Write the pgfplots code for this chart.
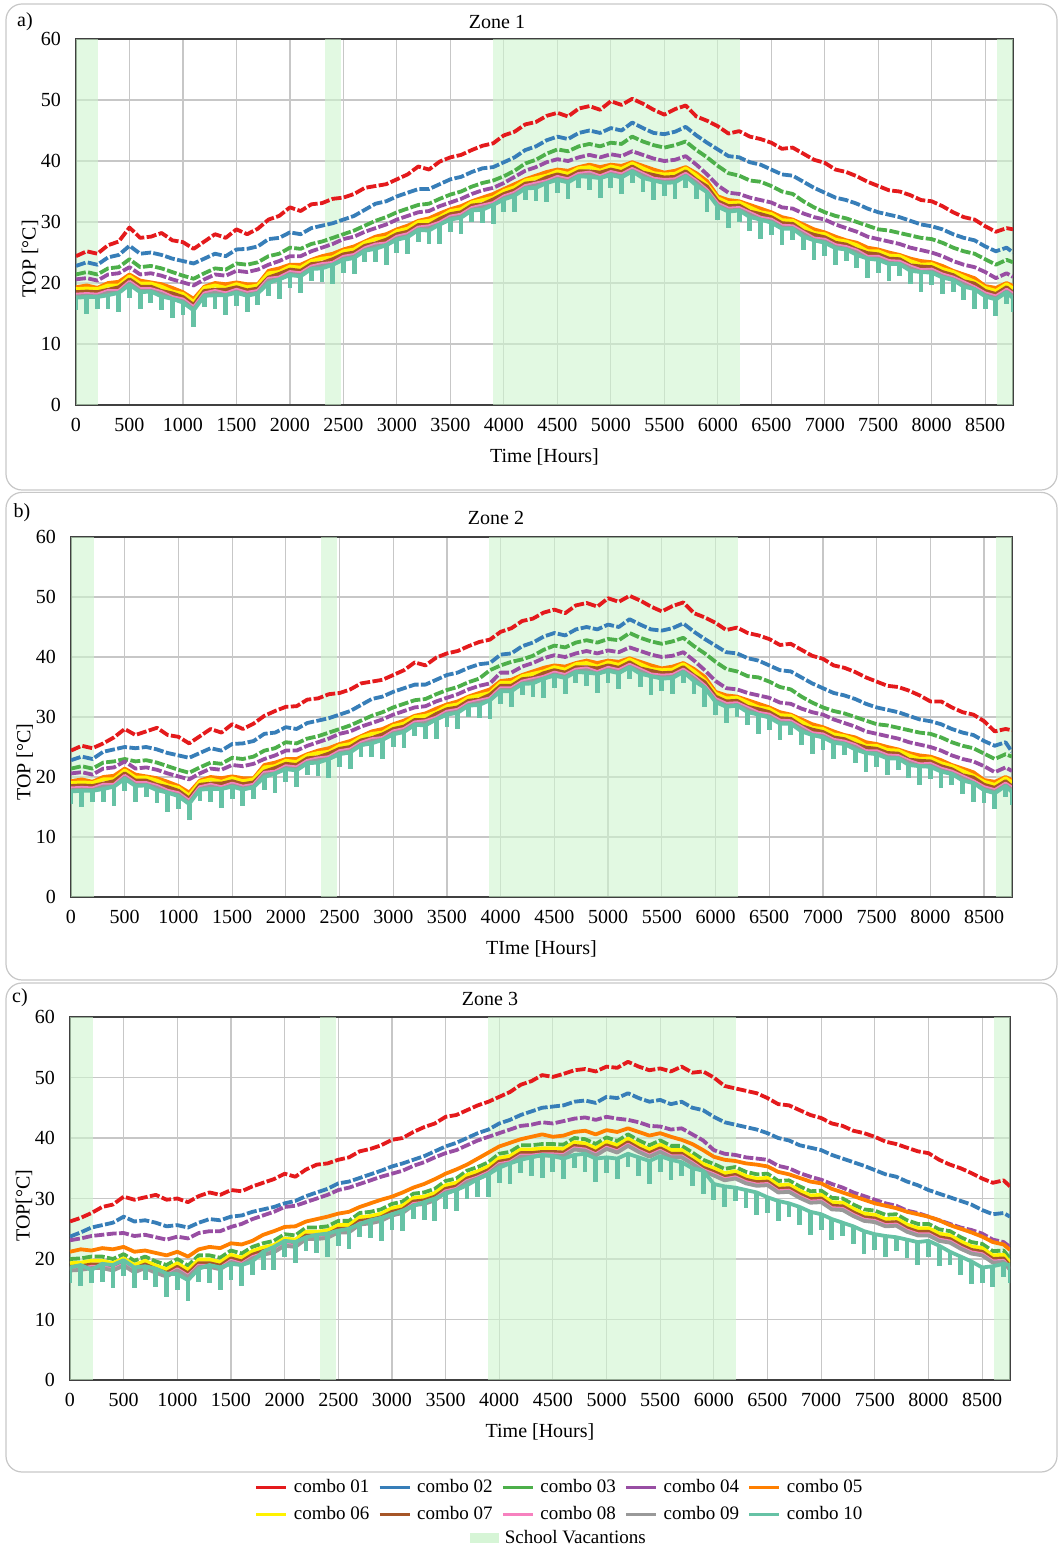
\documentclass[border=0pt]{standalone}
\usepackage{pgfplots}
\pgfplotsset{compat=1.18}
\usepackage{pgfplotstable}
\usepackage{fontspec}
\setmainfont{Liberation Serif}
\definecolor{cA}{HTML}{E41A1C}
\definecolor{cB}{HTML}{377EB8}
\definecolor{cC}{HTML}{4DAF4A}
\definecolor{cD}{HTML}{984EA3}
\definecolor{cE}{HTML}{FF7F00}
\definecolor{cF}{HTML}{FFF200}
\definecolor{cG}{HTML}{A65628}
\definecolor{cH}{HTML}{F781BF}
\definecolor{cI}{HTML}{999999}
\definecolor{cJ}{HTML}{66C2A5}
\definecolor{vac}{HTML}{CFF5CF}
\definecolor{vacleg}{HTML}{D6F5D6}

\pgfplotstableread{
x c1 c2 c3 c4 c5 c6 c7 c8 c9 c10 lo
0 24.4 22.8 21.4 20.6 19.3 19.0 18.5 18.1 17.8 17.6 15.5
100 25.2 23.4 21.8 20.8 19.6 19.1 18.6 18.2 17.9 17.7 15.0
200 24.8 23.0 21.4 20.4 19.2 19.0 18.5 18.1 17.8 17.7 15.8
300 26.2 24.2 22.4 21.4 20.0 19.6 18.9 18.7 18.4 18.0 15.8
400 26.8 24.6 22.6 21.6 20.2 19.6 19.3 18.7 18.4 18.4 15.2
500 29.1 26.1 23.9 22.6 21.4 21.1 20.6 20.2 19.9 19.7 17.6
600 27.4 24.8 22.6 21.4 20.4 19.9 19.4 19.0 18.7 18.5 15.8
700 27.6 25.0 22.8 21.6 20.1 19.9 19.4 19.0 18.7 18.6 16.7
800 28.2 24.6 22.4 21.2 19.8 19.4 18.7 18.5 18.2 17.8 15.6
900 27.0 24.0 21.8 20.6 19.2 18.6 18.3 17.7 17.4 17.4 14.2
1000 26.7 23.6 21.2 20.1 18.5 18.2 17.7 17.3 17.0 16.8 14.7
1100 25.6 23.2 20.7 19.6 17.4 16.9 16.4 16.0 15.7 15.5 12.8
1200 26.8 24.0 21.6 20.6 19.4 19.2 18.7 18.3 18.0 17.9 16.0
1300 28.0 24.8 22.4 21.4 20.0 19.6 18.9 18.7 18.4 18.0 15.8
1400 27.4 24.4 22.2 21.2 19.8 19.2 18.9 18.3 18.0 18.0 14.8
1500 28.8 25.5 23.2 22.0 20.1 19.8 19.3 18.9 18.6 18.4 16.3
1600 28.0 25.6 23.0 21.8 19.8 19.3 18.8 18.4 18.1 17.9 15.2
1700 28.9 26.0 23.4 22.2 19.8 19.6 19.1 18.7 18.4 18.3 16.4
1800 30.4 27.2 24.4 23.0 22.0 21.6 20.9 20.7 20.4 20.0 17.8
1900 31.0 27.4 24.8 23.6 22.4 21.8 21.5 20.9 20.6 20.6 17.4
2000 32.4 28.3 25.8 24.4 23.0 22.7 22.2 21.8 21.5 21.3 19.2
2100 31.8 28.0 25.6 24.4 23.0 22.5 22.0 21.6 21.3 21.1 18.4
2200 32.9 29.0 26.4 25.2 23.8 23.6 23.1 22.7 22.4 22.3 20.4
2300 33.1 29.4 26.8 25.8 24.4 24.0 23.3 23.1 22.8 22.4 20.2
2400 33.8 29.8 27.4 26.4 24.8 24.2 23.9 23.3 23.0 23.0 19.8
2500 34.0 30.4 28.0 27.2 25.5 25.2 24.7 24.3 24.0 23.8 21.7
2600 34.6 31.0 28.6 27.6 26.0 25.5 25.0 24.6 24.3 24.1 21.4
2700 35.6 32.0 29.4 28.4 26.8 26.6 26.1 25.7 25.4 25.3 23.4
2800 35.9 33.0 30.2 29.0 27.6 27.2 26.5 26.3 26.0 25.6 23.4
2900 36.2 33.4 30.8 29.6 28.0 27.4 27.1 26.5 26.2 26.2 23.0
3000 37.0 34.2 31.6 30.4 28.8 28.5 28.0 27.6 27.3 27.1 25.0
3100 37.8 34.8 32.2 31.0 29.4 28.9 28.4 28.0 27.7 27.5 24.8
3200 39.1 35.4 32.8 31.6 30.2 30.0 29.5 29.1 28.8 28.7 26.8
3300 38.6 35.4 33.0 31.8 30.6 30.2 29.5 29.3 29.0 28.6 26.4
3400 39.9 36.2 33.8 32.6 31.4 30.8 30.5 29.9 29.6 29.6 26.4
3500 40.6 37.0 34.5 33.2 32.1 31.8 31.3 30.9 30.6 30.4 28.3
3600 41.0 37.4 35.0 33.8 32.6 32.1 31.6 31.2 30.9 30.7 28.0
3700 41.8 38.2 35.8 34.6 33.4 33.2 32.7 32.3 32.0 31.9 30.0
3800 42.5 38.8 36.4 35.2 34.0 33.6 32.9 32.7 32.4 32.0 29.8
3900 42.9 39.0 36.8 35.6 34.6 34.0 33.7 33.1 32.8 32.8 29.6
4000 44.2 39.8 37.5 36.4 35.4 35.1 34.6 34.2 33.9 33.7 31.6
4100 44.8 40.6 38.4 37.4 36.2 35.7 35.2 34.8 34.5 34.3 31.6
4200 46.0 41.8 39.6 38.4 37.0 36.8 36.3 35.9 35.6 35.5 33.6
4300 46.4 42.4 40.2 39.0 37.6 37.2 36.5 36.3 36.0 35.6 33.4
4400 47.4 43.4 41.2 39.8 38.2 37.6 37.3 36.7 36.4 36.4 33.2
4500 47.9 44.0 41.9 40.3 38.6 38.3 37.8 37.4 37.1 36.9 34.8
4600 47.3 43.6 41.6 40.0 38.4 37.9 37.4 37.0 36.7 36.5 33.8
4700 48.6 44.6 42.4 40.6 39.0 38.8 38.3 37.9 37.6 37.5 35.6
4800 49.0 45.0 42.8 41.0 39.4 39.0 38.3 38.1 37.8 37.4 35.2
4900 48.4 44.6 42.4 40.6 39.0 38.4 38.1 37.5 37.2 37.2 34.0
5000 49.8 45.4 43.0 41.1 39.4 39.1 38.6 38.2 37.9 37.7 35.6
5100 49.2 45.0 42.8 40.8 39.2 38.7 38.2 37.8 37.5 37.3 34.6
5200 50.2 46.3 44.0 41.6 39.8 39.6 39.1 38.7 38.4 38.3 36.4
5300 49.4 45.4 43.2 41.0 39.2 38.8 38.1 37.9 37.6 37.2 35.0
5400 48.4 44.6 42.6 40.4 38.6 38.0 37.7 37.1 36.8 36.8 33.6
5500 47.6 44.4 42.2 40.0 38.1 37.8 37.3 36.9 36.6 36.4 34.3
5600 48.5 44.8 42.6 40.2 38.4 37.9 37.4 37.0 36.7 36.5 33.8
5700 49.1 45.6 43.2 40.8 39.0 38.8 38.3 37.9 37.6 37.5 35.6
5800 47.3 44.2 41.8 39.4 38.0 37.6 36.9 36.7 36.4 36.0 33.8
5900 46.6 43.0 40.6 37.8 36.7 36.1 35.8 35.2 34.9 34.9 31.7
6000 45.7 41.9 39.2 36.0 34.2 33.9 33.4 33.0 32.7 32.5 30.4
6100 44.5 40.8 38.0 34.8 33.6 33.1 32.6 32.2 31.9 31.7 29.0
6200 44.9 40.6 37.6 34.6 33.4 33.2 32.7 32.3 32.0 31.9 30.0
6300 44.0 39.8 36.8 34.0 32.8 32.4 31.7 31.5 31.2 30.8 28.6
6400 43.6 39.4 36.6 33.6 32.2 31.6 31.3 30.7 30.4 30.4 27.2
6500 43.0 38.6 35.9 33.2 31.6 31.3 30.8 30.4 30.1 29.9 27.8
6600 42.0 37.8 35.0 32.4 30.8 30.3 29.8 29.4 29.1 28.9 26.2
6700 42.2 37.6 34.6 32.2 30.4 30.2 29.7 29.3 29.0 28.9 27.0
6800 41.2 36.6 33.4 31.4 29.6 29.2 28.5 28.3 28.0 27.6 25.4
6900 40.2 35.6 32.4 30.8 28.8 28.2 27.9 27.3 27.0 27.0 23.8
7000 39.7 34.8 31.6 30.4 28.3 28.0 27.5 27.1 26.8 26.6 24.5
7100 38.6 34.0 31.0 29.6 27.6 27.1 26.6 26.2 25.9 25.7 23.0
7200 38.2 33.6 30.6 29.0 27.0 26.8 26.3 25.9 25.6 25.5 23.6
7300 37.5 33.0 30.0 28.4 26.6 26.2 25.5 25.3 25.0 24.6 22.4
7400 36.6 32.2 29.4 27.6 25.8 25.2 24.9 24.3 24.0 24.0 20.8
7500 35.9 31.6 28.8 27.2 25.5 25.2 24.7 24.3 24.0 23.8 21.7
7600 35.2 31.2 28.6 26.8 25.0 24.5 24.0 23.6 23.3 23.1 20.4
7700 35.0 30.8 28.2 26.4 24.6 24.4 23.9 23.5 23.2 23.1 21.2
7800 34.4 30.2 27.8 25.8 24.0 23.6 22.9 22.7 22.4 22.0 19.8
7900 33.6 29.6 27.4 25.4 23.6 23.0 22.7 22.1 21.8 21.8 18.6
8000 33.4 29.3 27.2 25.0 23.4 23.1 22.6 22.2 21.9 21.7 19.6
8100 32.6 28.8 26.6 24.4 22.8 22.3 21.8 21.4 21.1 20.9 18.2
8200 31.6 28.0 25.8 23.6 22.0 21.8 21.3 20.9 20.6 20.5 18.6
8300 30.8 27.4 25.2 23.0 21.4 21.0 20.3 20.1 19.8 19.4 17.2
8400 30.4 27.0 24.8 22.6 20.8 20.2 19.9 19.3 19.0 19.0 15.8
8500 29.3 26.0 23.9 21.8 19.5 19.2 18.7 18.3 18.0 17.8 15.7
8600 28.4 25.2 23.0 20.8 19.2 18.7 18.2 17.8 17.5 17.3 14.6
8700 29.0 25.8 23.8 21.6 20.0 19.8 19.3 18.9 18.6 18.5 16.6
8760 28.8 25.0 23.4 21.0 19.5 19.1 18.4 18.2 17.9 17.5 15.3
}\ta

\pgfplotstableread{
x c1 c2 c3 c4 c5 c6 c7 c8 c9 c10 lo
0 24.4 22.8 21.4 20.6 19.3 19.0 18.5 18.1 17.8 17.6 15.5
100 25.2 23.4 21.8 20.8 19.6 19.1 18.6 18.2 17.9 17.7 15.0
200 24.8 23.0 21.4 20.4 19.2 19.0 18.5 18.1 17.8 17.7 15.8
300 25.6 24.2 22.4 21.4 20.0 19.6 18.9 18.7 18.4 18.0 15.8
400 26.6 24.6 22.6 21.6 20.2 19.6 19.3 18.7 18.4 18.4 15.2
500 28.0 25.0 23.0 22.6 21.4 21.1 20.6 20.2 19.9 19.7 17.6
600 27.0 24.8 22.6 21.4 20.4 19.9 19.4 19.0 18.7 18.5 15.8
700 27.6 25.0 22.8 21.6 20.1 19.9 19.4 19.0 18.7 18.6 16.7
800 28.2 24.6 22.4 21.2 19.8 19.4 18.7 18.5 18.2 17.8 15.6
900 27.0 24.0 21.8 20.6 19.2 18.6 18.3 17.7 17.4 17.4 14.2
1000 26.7 23.6 21.2 20.1 18.5 18.2 17.7 17.3 17.0 16.8 14.7
1100 25.6 23.2 20.7 19.6 17.4 16.9 16.4 16.0 15.7 15.5 12.8
1200 26.8 24.0 21.6 20.6 19.4 19.2 18.7 18.3 18.0 17.9 16.0
1300 28.0 24.8 22.4 21.4 20.0 19.6 18.9 18.7 18.4 18.0 15.8
1400 27.4 24.4 22.2 21.2 19.8 19.2 18.9 18.3 18.0 18.0 14.8
1500 28.8 25.5 23.2 22.0 20.1 19.8 19.3 18.9 18.6 18.4 16.3
1600 28.0 25.6 23.0 21.8 19.8 19.3 18.8 18.4 18.1 17.9 15.2
1700 28.9 26.0 23.4 22.2 19.8 19.6 19.1 18.7 18.4 18.3 16.4
1800 30.2 27.2 24.4 23.0 22.0 21.6 20.9 20.7 20.4 20.0 17.8
1900 31.0 27.4 24.8 23.6 22.4 21.8 21.5 20.9 20.6 20.6 17.4
2000 31.7 28.3 25.8 24.4 23.0 22.7 22.2 21.8 21.5 21.3 19.2
2100 31.8 28.0 25.6 24.4 23.0 22.5 22.0 21.6 21.3 21.1 18.4
2200 32.9 29.0 26.4 25.2 23.8 23.6 23.1 22.7 22.4 22.3 20.4
2300 33.1 29.4 26.8 25.8 24.4 24.0 23.3 23.1 22.8 22.4 20.2
2400 33.8 29.8 27.4 26.4 24.8 24.2 23.9 23.3 23.0 23.0 19.8
2500 34.0 30.4 28.0 27.2 25.5 25.2 24.7 24.3 24.0 23.8 21.7
2600 34.6 31.0 28.6 27.6 26.0 25.5 25.0 24.6 24.3 24.1 21.4
2700 35.6 32.0 29.4 28.4 26.8 26.6 26.1 25.7 25.4 25.3 23.4
2800 35.9 33.0 30.2 29.0 27.6 27.2 26.5 26.3 26.0 25.6 23.4
2900 36.2 33.4 30.8 29.6 28.0 27.4 27.1 26.5 26.2 26.2 23.0
3000 37.0 34.2 31.6 30.4 28.8 28.5 28.0 27.6 27.3 27.1 25.0
3100 37.8 34.8 32.2 31.0 29.4 28.9 28.4 28.0 27.7 27.5 24.8
3200 39.1 35.4 32.8 31.6 30.2 30.0 29.5 29.1 28.8 28.7 26.8
3300 38.6 35.4 33.0 31.8 30.6 30.2 29.5 29.3 29.0 28.6 26.4
3400 39.9 36.2 33.8 32.6 31.4 30.8 30.5 29.9 29.6 29.6 26.4
3500 40.6 37.0 34.5 33.2 32.1 31.8 31.3 30.9 30.6 30.4 28.3
3600 41.0 37.4 35.0 33.8 32.6 32.1 31.6 31.2 30.9 30.7 28.0
3700 41.8 38.2 35.8 34.6 33.4 33.2 32.7 32.3 32.0 31.9 30.0
3800 42.5 38.8 36.4 35.2 34.0 33.6 32.9 32.7 32.4 32.0 29.8
3900 42.9 39.0 37.8 35.6 34.6 34.0 33.7 33.1 32.8 32.8 29.6
4000 44.2 40.4 38.6 37.4 36.0 35.7 35.2 34.8 34.5 34.3 32.2
4100 44.8 40.6 39.2 37.4 36.2 35.7 35.2 34.8 34.5 34.3 31.6
4200 46.0 41.8 39.6 38.4 37.0 36.8 36.3 35.9 35.6 35.5 33.6
4300 46.4 42.4 40.2 39.0 37.6 37.2 36.5 36.3 36.0 35.6 33.4
4400 47.4 43.4 41.2 39.8 38.2 37.6 37.3 36.7 36.4 36.4 33.2
4500 47.9 44.0 41.9 40.3 38.6 38.3 37.8 37.4 37.1 36.9 34.8
4600 47.3 43.6 41.6 40.0 38.4 37.9 37.4 37.0 36.7 36.5 33.8
4700 48.6 44.6 42.4 40.6 39.0 38.8 38.3 37.9 37.6 37.5 35.6
4800 49.0 45.0 42.8 41.0 39.4 39.0 38.3 38.1 37.8 37.4 35.2
4900 48.4 44.6 42.4 40.6 39.0 38.4 38.1 37.5 37.2 37.2 34.0
5000 49.8 45.4 43.0 41.1 39.4 39.1 38.6 38.2 37.9 37.7 35.6
5100 49.2 45.0 42.8 40.8 39.2 38.7 38.2 37.8 37.5 37.3 34.6
5200 50.2 46.3 44.0 41.6 39.8 39.6 39.1 38.7 38.4 38.3 36.4
5300 49.4 45.4 43.2 41.0 39.2 38.8 38.1 37.9 37.6 37.2 35.0
5400 48.4 44.6 42.6 40.4 38.6 38.0 37.7 37.1 36.8 36.8 33.6
5500 47.6 44.4 42.2 40.0 38.1 37.8 37.3 36.9 36.6 36.4 34.3
5600 48.5 44.8 42.6 40.2 38.4 37.9 37.4 37.0 36.7 36.5 33.8
5700 49.1 45.6 43.2 40.8 39.0 38.8 38.3 37.9 37.6 37.5 35.6
5800 47.3 44.2 41.8 39.4 38.0 37.6 36.9 36.7 36.4 36.0 33.8
5900 46.6 43.0 40.6 37.8 36.7 36.1 35.8 35.2 34.9 34.9 31.7
6000 45.7 41.9 39.2 36.0 34.2 33.9 33.4 33.0 32.7 32.5 30.4
6100 44.5 40.8 38.0 34.8 33.6 33.1 32.6 32.2 31.9 31.7 29.0
6200 44.9 40.6 37.6 34.6 33.4 33.2 32.7 32.3 32.0 31.9 30.0
6300 44.0 39.8 36.8 34.0 32.8 32.4 31.7 31.5 31.2 30.8 28.6
6400 43.6 39.4 36.6 33.6 32.2 31.6 31.3 30.7 30.4 30.4 27.2
6500 43.0 38.6 35.9 33.2 31.6 31.3 30.8 30.4 30.1 29.9 27.8
6600 42.0 37.8 35.0 32.4 30.8 30.3 29.8 29.4 29.1 28.9 26.2
6700 42.2 37.6 34.6 32.2 30.4 30.2 29.7 29.3 29.0 28.9 27.0
6800 41.2 36.6 33.4 31.4 29.6 29.2 28.5 28.3 28.0 27.6 25.4
6900 40.2 35.6 32.4 30.8 28.8 28.2 27.9 27.3 27.0 27.0 23.8
7000 39.7 34.8 31.6 30.4 28.3 28.0 27.5 27.1 26.8 26.6 24.5
7100 38.6 34.0 31.0 29.6 27.6 27.1 26.6 26.2 25.9 25.7 23.0
7200 38.2 33.6 30.6 29.0 27.0 26.8 26.3 25.9 25.6 25.5 23.6
7300 37.5 33.0 30.0 28.4 26.6 26.2 25.5 25.3 25.0 24.6 22.4
7400 36.6 32.2 29.4 27.6 25.8 25.2 24.9 24.3 24.0 24.0 20.8
7500 35.9 31.6 28.8 27.2 25.5 25.2 24.7 24.3 24.0 23.8 21.7
7600 35.2 31.2 28.6 26.8 25.0 24.5 24.0 23.6 23.3 23.1 20.4
7700 35.0 30.8 28.2 26.4 24.6 24.4 23.9 23.5 23.2 23.1 21.2
7800 34.4 30.2 27.8 25.8 24.0 23.6 22.9 22.7 22.4 22.0 19.8
7900 33.6 29.6 27.4 25.4 23.6 23.0 22.7 22.1 21.8 21.8 18.6
8000 32.6 29.3 27.2 25.0 23.4 23.1 22.6 22.2 21.9 21.7 19.6
8100 32.6 28.8 26.6 24.4 22.8 22.3 21.8 21.4 21.1 20.9 18.2
8200 31.6 28.0 25.8 23.6 22.0 21.8 21.3 20.9 20.6 20.5 18.6
8300 30.8 27.4 25.2 23.0 21.4 21.0 20.3 20.1 19.8 19.4 17.2
8400 30.4 27.0 24.8 22.6 20.8 20.2 19.9 19.3 19.0 19.0 15.8
8500 29.3 26.0 23.9 21.8 19.5 19.2 18.7 18.3 18.0 17.8 15.7
8600 27.6 25.2 23.0 20.8 19.2 18.7 18.2 17.8 17.5 17.3 14.6
8700 28.0 25.8 23.8 21.6 20.0 19.8 19.3 18.9 18.6 18.5 16.6
8760 27.8 24.2 23.4 21.0 19.5 19.1 18.4 18.2 17.9 17.5 15.3
}\tb

\pgfplotstableread{
x c1 c2 c3 c4 c5 c6 c7 c8 c9 c10 lo
0 26.2 23.7 20.0 23.1 21.2 19.3 18.7 18.3 18.1 18.6 16.0
100 26.8 24.4 20.1 23.4 21.6 19.4 18.8 18.4 18.2 19.0 15.6
200 27.6 25.2 20.4 23.8 21.4 19.7 19.1 18.7 18.5 18.2 16.0
300 28.6 25.6 20.4 24.0 21.8 19.7 19.1 18.7 18.5 19.2 16.2
400 29.0 26.0 20.0 24.2 21.6 19.3 18.7 18.3 18.1 19.0 15.2
500 30.3 27.0 20.8 24.3 22.0 20.1 19.5 19.1 18.9 19.8 17.2
600 29.8 26.2 19.7 23.8 21.2 19.0 18.4 18.0 17.8 18.6 15.2
700 30.2 26.4 20.4 24.0 21.4 19.7 19.1 18.7 18.5 18.8 16.6
800 30.6 26.0 19.6 23.6 21.0 18.9 18.3 17.9 17.7 18.4 15.4
900 29.8 25.4 19.0 23.2 20.6 18.3 17.7 17.3 17.1 17.6 13.8
1000 30.0 25.6 20.0 23.7 21.2 19.3 18.7 18.3 18.1 17.5 14.9
1100 29.4 25.2 18.9 23.4 20.4 18.2 17.6 17.2 17.0 16.5 13.1
1200 30.4 26.0 20.6 24.3 21.6 19.9 19.3 18.9 18.7 18.4 16.2
1300 31.0 26.6 20.6 24.6 22.0 19.9 19.3 18.9 18.7 19.0 16.0
1400 30.6 26.4 20.2 24.6 21.8 19.5 18.9 18.5 18.3 18.6 14.8
1500 31.4 27.0 21.4 25.3 22.6 20.7 20.1 19.7 19.5 19.2 16.6
1600 31.2 27.2 20.9 25.8 22.4 20.2 19.6 19.2 19.0 19.0 15.6
1700 32.0 27.8 22.0 26.6 23.0 21.3 20.7 20.3 20.1 19.6 17.4
1800 32.6 28.2 22.6 27.2 24.0 21.9 21.3 20.9 20.7 21.2 18.2
1900 33.2 28.6 23.0 27.8 24.6 22.3 21.7 21.3 21.1 22.0 18.2
2000 34.1 29.2 24.1 28.6 25.3 23.4 22.8 22.4 22.2 23.0 20.4
2100 33.6 29.6 23.9 28.8 25.4 23.2 22.6 22.2 22.0 22.8 19.4
2200 34.8 30.4 25.2 29.4 26.2 24.5 23.9 23.5 23.3 23.6 21.4
2300 35.6 31.0 25.2 30.0 26.6 24.5 23.9 23.5 23.3 24.0 21.0
2400 35.8 31.6 25.4 30.6 27.0 24.7 24.1 23.7 23.5 24.2 20.4
2500 36.4 32.5 26.3 31.4 27.5 25.6 25.0 24.6 24.4 24.7 22.1
2600 36.8 32.8 26.3 31.8 27.8 25.6 25.0 24.6 24.4 25.0 21.6
2700 37.8 33.4 27.6 32.4 28.6 26.9 26.3 25.9 25.7 25.8 23.6
2800 38.2 34.0 27.8 33.0 29.2 27.1 26.5 26.1 25.9 26.4 23.4
2900 38.8 34.6 28.2 33.6 29.8 27.5 26.9 26.5 26.3 26.8 23.0
3000 39.7 35.3 29.1 34.1 30.3 28.4 27.8 27.4 27.2 27.4 24.8
3100 40.0 35.8 29.5 34.6 31.0 28.8 28.2 27.8 27.6 28.0 24.6
3200 41.0 36.4 30.8 35.4 31.8 30.1 29.5 29.1 28.9 28.8 26.6
3300 41.8 37.0 31.0 36.0 32.4 30.3 29.7 29.3 29.1 29.4 26.4
3400 42.4 37.8 31.6 36.8 33.2 30.9 30.3 29.9 29.7 30.0 26.2
3500 43.5 38.6 32.9 37.5 34.1 32.2 31.6 31.2 31.0 30.8 28.2
3600 43.8 39.2 33.3 38.0 34.8 32.6 32.0 31.6 31.4 31.4 28.0
3700 44.6 40.0 34.6 38.8 35.6 33.9 33.3 32.9 32.7 32.2 30.0
3800 45.4 40.8 35.2 39.6 36.6 34.5 33.9 33.5 33.3 33.2 30.2
3900 46.0 41.4 36.0 40.2 37.6 35.3 34.7 34.3 34.1 34.0 30.2
4000 46.8 42.4 37.4 40.8 38.6 36.7 36.1 35.7 35.5 35.1 32.5
4100 47.6 43.0 37.7 41.4 39.2 37.0 36.4 36.0 35.8 35.8 32.4
4200 48.8 43.8 38.8 42.0 39.8 38.1 37.5 37.1 36.9 36.4 34.2
4300 49.4 44.4 38.8 42.2 40.2 38.1 37.5 37.1 36.9 36.8 33.8
4400 50.4 45.0 39.0 42.6 40.6 38.3 37.7 37.3 37.1 37.2 33.4
4500 50.1 45.2 39.0 42.4 40.2 38.3 37.7 37.3 37.1 37.0 34.4
4600 50.6 45.4 38.9 42.8 40.4 38.2 37.6 37.2 37.0 36.6 33.2
4700 51.2 46.0 40.0 43.2 41.0 39.3 38.7 38.3 38.1 37.2 35.0
4800 51.4 46.2 39.8 43.4 41.2 39.1 38.5 38.1 37.9 37.4 34.4
4900 51.0 45.8 39.0 43.0 40.6 38.3 37.7 37.3 37.1 36.6 32.8
5000 51.8 46.8 40.1 43.5 41.3 39.4 38.8 38.4 38.2 36.8 34.2
5100 51.6 46.6 39.5 43.2 41.0 38.8 38.2 37.8 37.6 36.6 33.2
5200 52.6 47.4 40.6 43.0 41.6 39.9 39.3 38.9 38.7 37.4 35.2
5300 51.8 46.6 39.6 42.6 41.0 38.9 38.3 37.9 37.7 36.8 33.8
5400 51.2 46.0 38.8 42.0 40.4 38.1 37.5 37.1 36.9 36.2 32.4
5500 51.5 46.3 39.6 41.9 40.8 38.9 38.3 37.9 37.7 37.0 34.4
5600 51.0 45.6 38.7 41.4 40.2 38.0 37.4 37.0 36.8 36.4 33.0
5700 51.8 46.0 38.7 41.6 39.7 38.0 37.4 37.0 36.8 36.0 33.8
5800 50.8 45.0 37.6 40.6 39.0 36.9 36.3 35.9 35.7 35.0 32.0
5900 51.0 44.6 36.4 39.6 38.0 35.7 35.1 34.7 34.5 34.6 30.8
6000 50.0 43.5 35.7 38.0 36.9 35.0 34.4 34.0 33.8 32.4 29.8
6100 48.6 42.6 34.9 37.4 36.4 34.2 33.6 33.2 33.0 32.0 28.6
6200 48.2 42.2 35.2 37.2 36.2 34.5 33.9 33.5 33.3 31.8 29.6
6300 47.8 41.8 34.4 36.8 35.8 33.7 33.1 32.7 32.5 31.4 28.4
6400 47.4 41.4 34.0 36.6 35.6 33.3 32.7 32.3 32.1 31.0 27.2
6500 46.6 40.8 34.1 36.4 35.3 33.4 32.8 32.4 32.2 30.2 27.6
6600 45.6 40.0 32.9 35.4 34.4 32.2 31.6 31.2 31.0 29.6 26.2
6700 45.4 39.6 33.0 35.0 34.0 32.3 31.7 31.3 31.1 29.2 27.0
6800 44.6 38.8 32.0 34.2 33.4 31.3 30.7 30.3 30.1 28.6 25.6
6900 43.8 38.4 31.2 33.6 32.8 30.5 29.9 29.5 29.3 27.8 24.0
7000 43.3 38.0 31.3 33.1 32.5 30.6 30.0 29.6 29.4 27.4 24.8
7100 42.4 37.2 30.1 32.4 31.6 29.4 28.8 28.4 28.2 26.6 23.2
7200 42.0 36.6 30.0 31.8 31.0 29.3 28.7 28.3 28.1 26.0 23.8
7300 41.2 36.0 29.0 31.0 30.4 28.3 27.7 27.3 27.1 25.4 22.4
7400 40.8 35.4 28.2 30.4 29.8 27.5 26.9 26.5 26.3 24.6 20.8
7500 40.2 34.7 28.0 29.8 29.2 27.3 26.7 26.3 26.1 24.1 21.5
7600 39.4 34.0 27.3 29.2 28.8 26.6 26.0 25.6 25.4 23.8 20.4
7700 39.0 33.6 27.4 28.8 28.4 26.7 26.1 25.7 25.5 23.6 21.4
7800 38.4 32.8 26.4 28.0 27.8 25.7 25.1 24.7 24.5 23.2 20.2
7900 37.8 32.2 25.8 27.6 27.4 25.1 24.5 24.1 23.9 22.8 19.0
8000 37.5 31.4 25.8 27.0 27.0 25.1 24.5 24.1 23.9 23.0 20.4
8100 36.4 30.8 24.9 26.4 26.4 24.2 23.6 23.2 23.0 22.2 18.8
8200 35.6 30.2 24.6 25.8 25.6 23.9 23.3 22.9 22.7 21.2 19.0
8300 35.0 29.6 23.6 25.2 25.0 22.9 22.3 21.9 21.7 20.4 17.4
8400 34.2 29.0 22.8 24.8 24.4 22.1 21.5 21.1 20.9 19.6 15.8
8500 33.3 28.1 22.5 24.2 23.7 21.8 21.2 20.8 20.6 18.6 16.0
8600 32.6 27.4 21.3 23.2 22.8 20.6 20.0 19.6 19.4 18.8 15.4
8700 33.0 27.6 21.4 22.8 22.4 20.7 20.1 19.7 19.5 19.2 17.0
8760 32.0 27.0 20.1 22.0 21.5 19.4 18.8 18.4 18.2 19.0 16.0
}\tc

\newcommand{\fs}{\fontsize{10}{12}\selectfont}
\newcommand{\fl}{\fontsize{9.5}{11.5}\selectfont}

\pgfplotsset{
  panel/.style={
    scale only axis,
    anchor=south west,
    xmin=0, xmax=8760, ymin=0, ymax=60,
    xtick={0,500,...,8500}, ytick={0,10,...,60},
    major tick length=0pt,
    grid=major,
    major grid style={draw=black!22, line width=0.6pt},
    axis line style={draw=black!75, line width=0.9pt},
    tick label style={font=\fs},
    label style={font=\fs},
    /pgf/number format/assume math mode=true,
    /pgf/number format/1000 sep={},
    xticklabel style={yshift=-3pt},
    yticklabel style={xshift=-4pt},
    x label style={at={(axis description cs:0.5,0)}, anchor=center, yshift=-26pt},
  },
  ser/.style={line width=1.9pt, line join=round},
  dser/.style={line width=1.9pt, line join=round, dash pattern=on 5pt off 1.2pt},
}

\newcommand{\vacation}{%
  \addplot[fill=vac, draw=none, fill opacity=0.6, forget plot] coordinates {(0,0) (0,60) (210,60) (210,0)} -- cycle;
  \addplot[fill=vac, draw=none, fill opacity=0.6, forget plot] coordinates {(2330,0) (2330,60) (2475,60) (2475,0)} -- cycle;
  \addplot[fill=vac, draw=none, fill opacity=0.6, forget plot] coordinates {(3895,0) (3895,60) (6210,60) (6210,0)} -- cycle;
  \addplot[fill=vac, draw=none, fill opacity=0.6, forget plot] coordinates {(8612,0) (8612,60) (8760,60) (8760,0)} -- cycle;
}

\newcommand{\series}[1]{%
  \addplot[cA, dser] table[x=x, y=c1] {#1};
  \addplot[cB, dser] table[x=x, y=c2] {#1};
  \addplot[cC, dser] table[x=x, y=c3] {#1};
  \addplot[cD, dser] table[x=x, y=c4] {#1};
  \addplot[cE, ser] table[x=x, y=c5] {#1};
  \addplot[cF, ser] table[x=x, y=c6] {#1};
  \addplot[cG, ser] table[x=x, y=c7] {#1};
  \addplot[cH, ser] table[x=x, y=c8] {#1};
  \addplot[cI, ser] table[x=x, y=c9] {#1};
  \addplot[cJ, ser, error bars/.cd, y dir=minus, y explicit,
    error bar style={cJ, line width=2.4pt}, error mark=none]
    table[x=x, y=c10, y error minus expr=\thisrow{c10}-\thisrow{lo}] {#1};
}

\begin{document}
\begin{tikzpicture}
\useasboundingbox (0,0) rectangle (530pt,774.5pt);
\draw[black!22, line width=0.6pt, rounded corners=8pt] (3pt,529.5pt) rectangle (528.5pt,772.5pt);
\draw[black!22, line width=0.6pt, rounded corners=8pt] (3pt,284.5pt) rectangle (528.5pt,528.3pt);
\draw[black!22, line width=0.6pt, rounded corners=8pt] (3pt,38.5pt) rectangle (528.5pt,283pt);
\node[font=\fs] at (12.5pt,763.5pt) {a)};
\node[font=\fs] at (11pt,518pt) {b)};
\node[font=\fs] at (10pt,275.5pt) {c)};
\node[font=\fs] at (248.5pt,763.5pt) {Zone 1};
\node[font=\fs] at (248pt,515.5pt) {Zone 2};
\node[font=\fs] at (245pt,275pt) {Zone 3};

\begin{axis}[panel, at={(38pt,572pt)}, width=468.5pt, height=183pt,
  xlabel={Time [Hours]}, ylabel={TOP [°C]},
  y label style={at={(axis description cs:-0.049,0.40)}, anchor=center},
  legend image code/.code={\fill[vacleg] (0pt,-2.2pt) rectangle (14pt,2.2pt);},
  legend style={at={(axis description cs:0.5165,-3.096)}, anchor=center, draw=none, fill=none,
    font=\fl, inner sep=0pt, /tikz/every odd column/.style={column sep=1pt}}]
\addlegendimage{vacleg}
\addlegendentry{School Vacantions}
\vacation
\series{\ta}
\end{axis}

\begin{axis}[panel, at={(35.5pt,326pt)}, width=470.5pt, height=180pt,
  xlabel={TIme [Hours]}, ylabel={TOP [°C]},
  y label style={at={(axis description cs:-0.049,0.375)}, anchor=center}]
\vacation
\series{\tb}
\end{axis}

\begin{axis}[panel, at={(35pt,84.5pt)}, width=470pt, height=181.5pt,
  xlabel={Time [Hours]}, ylabel={TOP[°C]},
  y label style={at={(axis description cs:-0.049,0.48)}, anchor=center},
  legend columns=5,
  legend entries={combo 01,combo 02,combo 03,combo 04,combo 05,combo 06,combo 07,combo 08,combo 09,combo 10},
  legend image code/.code={\draw[#1, solid, line width=1.4pt] (0pt,0pt) -- (15pt,0pt);},
  legend style={at={(axis description cs:0.522,-0.333)}, anchor=center, draw=none, fill=none,
    font=\fl, column sep=2.5pt, row sep=1.5pt, inner sep=0pt,
    /tikz/every odd column/.style={column sep=1pt}}]
\vacation
\series{\tc}
\end{axis}
\end{tikzpicture}
\end{document}
